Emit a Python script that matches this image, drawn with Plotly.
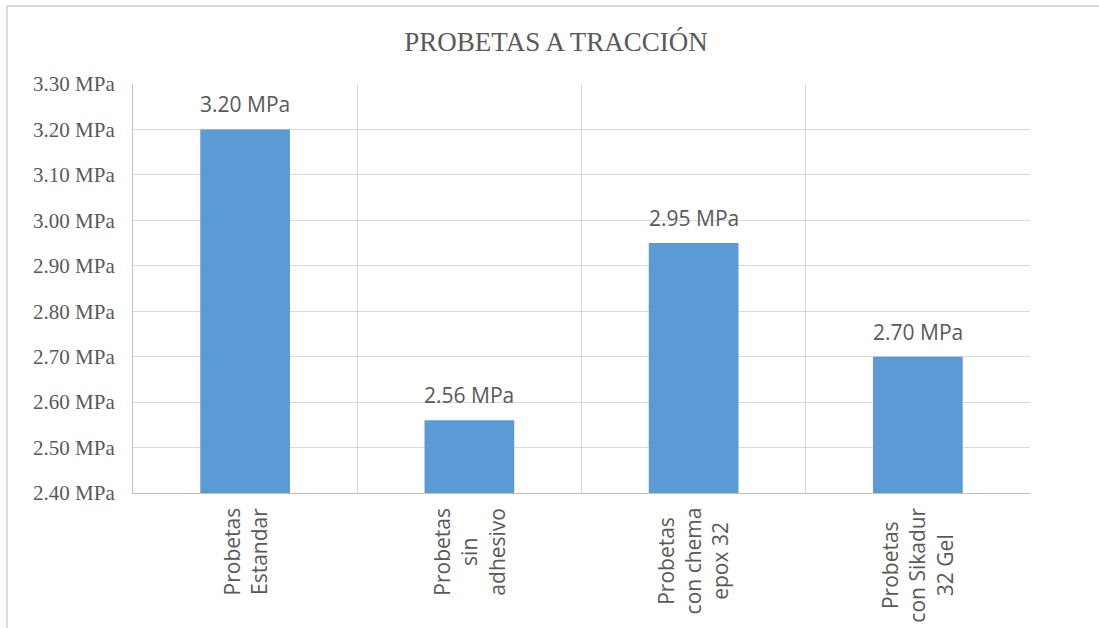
import plotly.graph_objects as go

categories = ["Probetas Estandar", "Probetas sin adhesivo", "Probetas con chema epox 32", "Probetas con Sikadur 32 Gel"]
tick_labels = ["Probetas<br>Estandar", "Probetas<br>sin<br>adhesivo", "Probetas<br>con chema<br>epox 32", "Probetas<br>con Sikadur<br>32 Gel"]
values = [3.20, 2.56, 2.95, 2.70]
bar_labels = ["3.20 MPa", "2.56 MPa", "2.95 MPa", "2.70 MPa"]
title_text = "PROBETAS A TRACCIÓN"

BAR = "#5B9BD5"
GRID = "#D9D9D9"
TXT = "#595959"
SANS = "Open Sans, Segoe UI, sans-serif"
SERIF = "Liberation Serif, Times New Roman, serif"

fig = go.Figure()
fig.add_trace(go.Bar(x=categories, y=values, marker=dict(color=BAR, line=dict(width=0)),
                     width=0.4, hoverinfo="skip"))

annotations = []
for c, v, t in zip(categories, values, bar_labels):
    annotations.append(dict(x=c, y=v, xref="x", yref="y", text=t, showarrow=False,
                            yanchor="bottom", yshift=9,
                            font=dict(family=SANS, size=21, color=TXT)))
for c, t in zip(categories, tick_labels):
    annotations.append(dict(x=c, y=-0.03, xref="x", yref="paper", text=t, showarrow=False,
                            textangle=-90, yanchor="top", xanchor="center", align="center",
                            font=dict(family=SANS, size=21, color=TXT)))

border = dict(color=GRID, width=2)
fig.update_layout(
    width=1099, height=628,
    margin=dict(l=133, r=69, t=84, b=135),
    paper_bgcolor="white", plot_bgcolor="white",
    showlegend=False,
    title=dict(text=title_text, x=(556 / 1099), xanchor="center", y=1 - 42 / 628, yanchor="middle",
               font=dict(family=SERIF, size=27, color=TXT)),
    xaxis=dict(showticklabels=False, tickson="boundaries", showgrid=True, gridcolor=GRID, gridwidth=1,
               showline=True, linecolor="#BFBFBF", linewidth=1, ticks="", mirror=False, zeroline=False),
    yaxis=dict(range=[2.4, 3.3], dtick=0.1, tick0=2.4, tickformat=".2f", ticksuffix=" MPa",
               showgrid=True, gridcolor=GRID, gridwidth=1, showline=True, linecolor="#BFBFBF",
               linewidth=1, ticks="", zeroline=False, ticklabelstandoff=13,
               tickfont=dict(family=SERIF, size=21, color=TXT)),
    annotations=annotations,
    shapes=[
        dict(type="line", xref="paper", yref="paper", x0=-0.1405, y0=1.1907, x1=1.2, y1=1.1907,
             line=border, layer="below"),
        dict(type="line", xref="paper", yref="paper", x0=-0.1405, y0=-0.5, x1=-0.1405, y1=1.1907,
             line=border, layer="below"),
    ],
)

fig.write_html("out.html", config={"displayModeBar": False},
               post_script="document.body.style.margin='0';document.body.style.padding='0';"
                           "document.body.style.overflow='hidden';"
                           "document.documentElement.style.overflow='hidden';")
